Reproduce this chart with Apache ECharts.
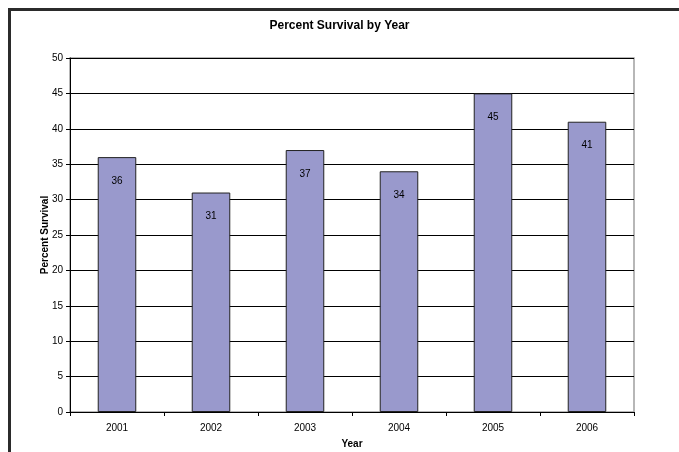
<!DOCTYPE html>
<html>
<head>
<meta charset="utf-8">
<script src="https://cdn.jsdelivr.net/npm/echarts@6/dist/echarts.min.js"></script>
<style>
  html, body { margin: 0; padding: 0; background: #fff; }
  #chart { width: 679px; height: 452px; }
</style>
</head>
<body>
<div id="chart"></div>
<script>
// chart data
var years = ['2001', '2002', '2003', '2004', '2005', '2006']
var survival = [36, 31, 37, 34, 45, 41]
var yTicks = { min: 0, max: 50, interval: 5 }

var font = 'Liberation Sans, Arial, sans-serif'
var chart = echarts.init(document.getElementById('chart'))

chart.setOption({
  animation: false,
  textStyle: { fontFamily: font },
  title: {
    text: 'Percent Survival by Year',
    left: 'center',
    top: 15,
    textStyle: { fontSize: 12, fontWeight: 'bold', color: '#000', fontFamily: font }
  },
  graphic: [{
    type: 'rect',
    shape: { x: 9.5, y: 9.5, width: 720, height: 500 },
    style: { fill: 'none', stroke: '#2b2b2b', lineWidth: 3 },
    silent: true
  }],
  grid: {
    left: 70,
    right: 45,
    top: 58,
    bottom: 40,
    outerBoundsMode: 'none',
    show: true,
    borderColor: '#a0a0a0',
    borderWidth: 1.5
  },
  xAxis: {
    type: 'category',
    data: years,
    name: 'Year',
    nameLocation: 'middle',
    nameGap: 27,
    nameMoveOverlap: false,
    nameTextStyle: { fontSize: 10, fontWeight: 'bold', color: '#000' },
    axisLine: { lineStyle: { color: '#000', width: 1 } },
    axisTick: { show: true, length: 4, lineStyle: { color: '#000' } },
    axisLabel: { fontSize: 10, color: '#000', margin: 11 }
  },
  yAxis: {
    type: 'value',
    min: yTicks.min,
    max: yTicks.max,
    interval: yTicks.interval,
    name: 'Percent Survival',
    nameLocation: 'middle',
    nameGap: 20,
    nameMoveOverlap: false,
    nameTextStyle: { fontSize: 10, fontWeight: 'bold', color: '#000' },
    axisLine: { show: true, lineStyle: { color: '#000', width: 1 } },
    axisTick: { show: true, length: 4, lineStyle: { color: '#000' } },
    axisLabel: { fontSize: 10, color: '#000', margin: 7 },
    splitLine: { show: true, lineStyle: { color: '#000', width: 1 } }
  },
  series: [{
    type: 'bar',
    data: survival,
    barWidth: '41%',
    itemStyle: { color: '#9999cc', borderColor: '#222', borderWidth: 1 },
    label: {
      show: true,
      position: 'insideTop',
      distance: 19,
      fontSize: 10,
      color: '#000'
    }
  }]
})
</script>
</body>
</html>
